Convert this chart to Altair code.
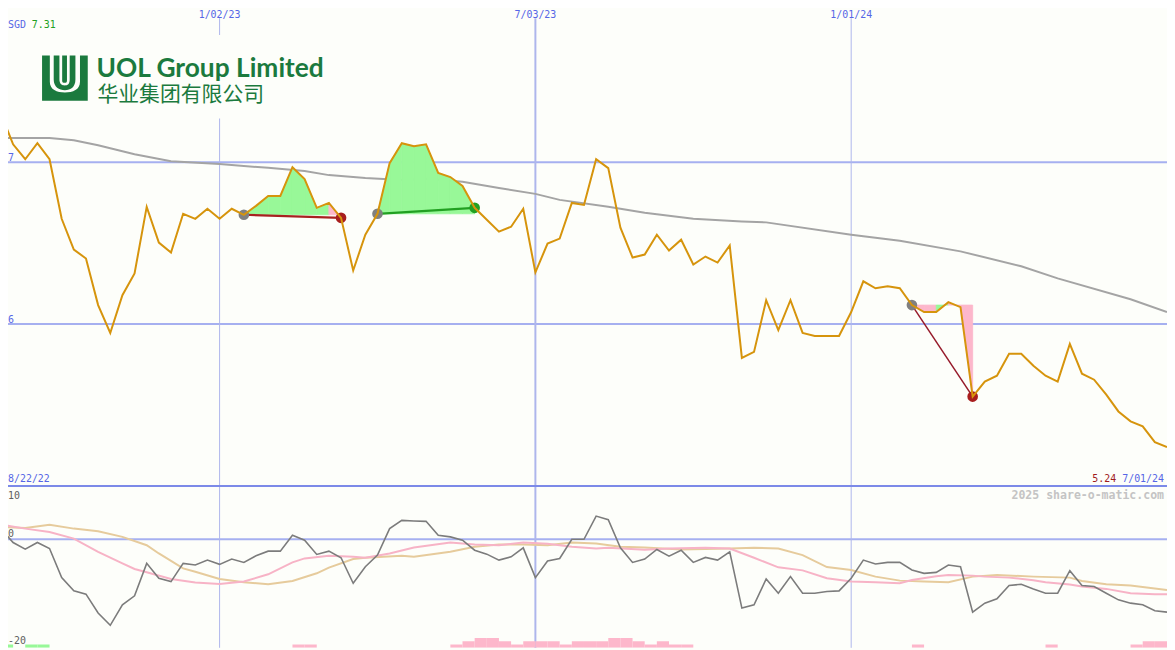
import altair as alt
import pandas as pd

# ---------------- data ----------------
start = pd.Timestamp("2022-08-29")
dates = pd.date_range(start, periods=97, freq="7D")

price = [7.30, 7.110, 7.018, 7.117, 7.018, 6.650, 6.460, 6.405, 6.117, 5.945,
         6.178, 6.313, 6.724, 6.503, 6.442, 6.681, 6.650, 6.712, 6.650, 6.712,
         6.675, 6.730, 6.791, 6.791, 6.969, 6.896, 6.718, 6.748, 6.656, 6.331,
         6.552, 6.681, 6.994, 7.117, 7.098, 7.110, 6.933, 6.908, 6.853, 6.718,
         6.644, 6.571, 6.601, 6.712, 6.319, 6.497, 6.528, 6.748, 6.736, 7.018,
         6.963, 6.595, 6.411, 6.429, 6.552, 6.454, 6.521, 6.368, 6.417, 6.380,
         6.485, 5.791, 5.828, 6.147, 5.963, 6.147, 5.945, 5.926, 5.926, 5.926,
         6.074, 6.264, 6.221, 6.233, 6.221, 6.117, 6.074, 6.074, 6.135, 6.104,
         5.552, 5.644, 5.681, 5.816, 5.816, 5.742, 5.681, 5.644, 5.877, 5.693,
         5.656, 5.564, 5.460, 5.399, 5.368, 5.270, 5.240]

ma_weeks = [0, 4, 6, 8, 10, 11, 14, 18, 22, 25, 27, 30, 33, 35, 38, 41, 44, 46, 50, 53,
            57, 61, 63, 70, 74, 79, 84, 87, 93, 96]
ma_vals = [7.149, 7.149, 7.135, 7.104, 7.067, 7.049, 7.006, 6.988, 6.965, 6.945,
           6.920, 6.902, 6.890, 6.898, 6.879, 6.840, 6.804, 6.767, 6.724, 6.687,
           6.650, 6.634, 6.628, 6.552, 6.515, 6.449, 6.357, 6.282, 6.153, 6.074]

osc = [2.02, -0.62, -1.88, -0.62, -1.75, -7.29, -9.81, -10.43, -14.02, -16.35,
       -12.45, -10.75, -4.58, -7.42, -8.04, -4.58, -4.90, -3.96, -4.77, -3.77,
       -4.40, -3.14, -2.26, -2.26, 0.76, -0.18, -2.89, -2.26, -3.52, -8.36,
       -5.21, -3.02, 2.02, 3.59, 3.47, 3.40, 0.76, 0.45, -0.18, -2.08,
       -2.83, -3.96, -3.33, -1.63, -7.29, -4.14, -3.65, 0.0, 0.0, 4.4,
       3.71, -1.63, -4.40, -3.77, -1.94, -3.20, -2.08, -4.40, -3.45, -3.96,
       -2.39, -13.08, -12.45, -7.55, -10.25, -7.10, -10.25, -10.25, -9.94, -9.81,
       -7.42, -3.96, -4.71, -4.40, -4.40, -5.85, -6.48, -6.29, -4.90, -5.21,
       -13.84, -12.14, -11.32, -8.80, -8.55, -9.43, -10.25, -10.25, -5.97, -8.80,
       -8.99, -10.25, -11.51, -12.14, -12.45, -13.58, -13.84]

pink_weeks = [0, 2, 4, 6, 8, 10, 11, 12, 14, 16, 18, 20, 22, 24, 25, 27, 29, 30, 32, 34,
              37, 39, 41, 43, 45, 47, 49, 50, 53, 55, 58, 60, 62, 64, 66, 68, 70, 72, 74, 75,
              77, 78, 80, 81, 83, 85, 86, 88, 89, 91, 93, 95, 96]
pink_vals = [2.77, 2.02, 1.39, 0.13, -2.38, -4.58, -5.65, -6.28, -7.54, -8.23,
             -8.48, -8.04, -6.66, -4.40, -3.64, -3.14, -3.33, -3.52, -2.70, -1.57,
             -0.62, -1.00, -1.13, -0.62, -0.87, -1.44, -1.75, -1.63, -2.01, -1.75,
             -1.63, -1.75, -3.52, -5.34, -5.91, -7.42, -8.04, -8.17, -8.36, -7.73,
             -7.04, -6.79, -6.91, -7.10, -7.29, -7.79, -8.17, -8.61, -8.99, -9.43,
             -10.25, -10.43, -10.43]

tan_weeks = [0, 2, 4, 6, 8, 10, 12, 13, 15, 16, 18, 20, 22, 24, 26, 27, 29, 30, 33, 34,
             37, 39, 41, 43, 45, 47, 49, 51, 53, 56, 60, 62, 64, 66, 68, 70, 72, 74, 76, 78,
             80, 82, 85, 88, 89, 91, 93, 96]
tan_vals = [2.33, 2.15, 2.77, 2.02, 1.52, 0.45, -1.13, -2.70, -5.53, -6.16,
            -7.54, -8.17, -8.55, -7.92, -6.47, -5.40, -3.77, -3.52, -3.14, -3.33,
            -2.38, -1.44, -1.00, -1.00, -1.13, -0.62, -0.81, -1.44, -1.57, -1.94,
            -1.75, -1.63, -1.75, -3.01, -5.28, -5.84, -7.10, -7.86, -8.04, -8.17,
            -7.10, -6.79, -7.10, -7.29, -7.92, -8.55, -8.80, -9.62]

pink_bar_weeks = [24, 25, 37, 38, 39, 40, 41, 42, 43, 44, 45, 46, 47, 48, 49, 50, 51, 52, 53,
                  54, 55, 56, 75, 86, 93, 94, 95]
pink_bar_levels = [1, 1, 1, 2, 3, 3, 2, 1, 2, 2, 2, 1, 2, 2, 2, 3, 3, 2, 1,
                   2, 1, 1, 1, 1, 1, 2, 2]
green_bar_weeks = [0, 2, 3]
green_bar_levels = [1, 1, 1]

# trades: entry week, exit week, outcome
trade_entry = [20, 31, 75]
trade_exit = [28, 39, 80]
trade_result = ["loss", "gain", "loss"]

vline_dates = ["2023-01-02", "2023-07-03", "2024-01-01"]
vline_labels = ["1/02/23", "7/03/23", "1/01/24"]
vline_widths = [1, 2, 1]

# ---------------- styling ----------------
BG = "#FDFEFA"
GRID = "#A6B0F0"
VGRID = "#AEB6EC"
SEP = "#7C8AE8"
BLUE = "#5666E6"
GREEN_TXT = "#22A022"
DARKRED = "#A01C1C"
PRICE_C = "#D6940C"
MA_C = "#A4A4A4"
OSC_C = "#7C7C7C"
OSC_PINK = "#F7B3C6"
OSC_TAN = "#E6CB9C"
FILL_G = "#98F898"
FILL_P = "#FDB7CB"
LOGO = "#1B7A3E"
MONO = "DejaVu Sans Mono"

W, H = 1167, 642
xs = alt.Scale(domain=[0.5805, 96], nice=False, zero=False)
yp = alt.Scale(domain=[5.0, 7.9387], range=[479, 0], nice=False, zero=False)
yo = alt.Scale(domain=[-20.62, 10.13], range=[642, 479], nice=False, zero=False)
yb = alt.Scale(domain=[0, 10], range=[642, 609], nice=False, zero=False)


def wk(d):
    return (pd.Timestamp(d) - start).days / 7.0


def X(field="w"):
    return alt.X(f"{field}:Q", scale=xs, axis=None)


def YP(field="p"):
    return alt.Y(f"{field}:Q", scale=yp, axis=None, stack=None)


def YO(field="v"):
    return alt.Y(f"{field}:Q", scale=yo, axis=None, stack=None)


weeks = [wk(d) for d in dates]
price_df = pd.DataFrame({"w": weeks, "p": price})
ma_df = pd.DataFrame({"w": ma_weeks, "p": ma_vals})
osc_df = pd.DataFrame({"w": weeks, "v": osc})
pink_df = pd.DataFrame({"w": pink_weeks, "v": pink_vals})
tan_df = pd.DataFrame({"w": tan_weeks, "v": tan_vals})

bars = pd.DataFrame({
    "w": pink_bar_weeks + green_bar_weeks,
    "lvl": pink_bar_levels + green_bar_levels,
    "c": [FILL_P] * len(pink_bar_weeks) + [FILL_G] * len(green_bar_weeks),
})
bars["w2"] = bars["w"] + 1
bars["base"] = 0

# fills between price and entry level, per segment
fill_rows = []
line_rows = []
dot_rows = []
for t, (a, b, r) in enumerate(zip(trade_entry, trade_exit, trade_result)):
    lvl = price[a]
    for i in range(a, b):
        c = FILL_G if price[i + 1] >= lvl else FILL_P
        seg = f"s{t}_{i}"
        fill_rows.append({"seg": seg, "w": weeks[i], "p": price[i], "lvl": lvl, "c": c})
        fill_rows.append({"seg": seg, "w": weeks[i + 1], "p": price[i + 1], "lvl": lvl, "c": c})
    lc = GREEN_TXT if r == "gain" else ("#A82020" if t == 0 else "#961A2A")
    sw = 1.5 if t == 2 else 2.2
    line_rows.append({"t": t, "w": weeks[a], "p": price[a], "col": lc, "sw": sw})
    line_rows.append({"t": t, "w": weeks[b], "p": price[b], "col": lc, "sw": sw})
    dot_rows.append({"w": weeks[a], "p": price[a], "col": "#808080"})
    dot_rows.append({"w": weeks[b], "p": price[b], "col": GREEN_TXT if r == "gain" else "#A81E1E"})
fill_df = pd.DataFrame(fill_rows)
tline_df = pd.DataFrame(line_rows)
dot_df = pd.DataFrame(dot_rows)

vl_df = pd.DataFrame({"w": [wk(d) for d in vline_dates], "label": vline_labels, "sw": vline_widths})
one = pd.DataFrame({"a": [0]})

layers = []

# horizontal grid lines (price panel) and zero line (oscillator panel)
layers.append(alt.Chart(pd.DataFrame({"p": [7, 6]})).mark_rule(color=GRID, strokeWidth=2).encode(
    y=YP(), x=alt.value(0), x2=alt.value(W)))
layers.append(alt.Chart(pd.DataFrame({"v": [0]})).mark_rule(color=GRID, strokeWidth=2).encode(
    y=YO(), x=alt.value(0), x2=alt.value(W)))
# vertical date lines
layers.append(alt.Chart(vl_df).mark_rule(color=VGRID).encode(
    x=X(), y=alt.value(8), y2=alt.value(H),
    strokeWidth=alt.StrokeWidth("sw:Q", scale=None)))
# separator between panels
layers.append(alt.Chart(pd.DataFrame({"p": [5.0]})).mark_rule(color=SEP, strokeWidth=2).encode(
    y=YP(), x=alt.value(0), x2=alt.value(W)))

# logo background box
layers.append(alt.Chart(one).mark_rect(color=BG).encode(
    x=alt.value(12), x2=alt.value(337), y=alt.value(25), y2=alt.value(109)))

# moving average
layers.append(alt.Chart(ma_df).mark_line(color=MA_C, strokeWidth=2, clip=True).encode(
    x=X(), y=YP()))

# trade fills (between price and entry level, one area per weekly segment)
for seg, g in fill_df.groupby("seg", sort=False):
    col = g["c"].iloc[0]
    layers.append(alt.Chart(g).mark_area(clip=True, opacity=1, color=col, stroke=col,
                                         strokeWidth=0.8).encode(
        x=X(), y=YP(), y2="lvl:Q"))

# oscillator panel
layers.append(alt.Chart(bars).mark_rect(clip=True).encode(
    x=X(), x2="w2:Q", y=alt.Y("base:Q", scale=yb, axis=None, stack=None), y2="lvl:Q",
    color=alt.Color("c:N", scale=None, legend=None)))
layers.append(alt.Chart(tan_df).mark_line(color=OSC_TAN, strokeWidth=2, clip=True).encode(
    x=X(), y=YO()))
layers.append(alt.Chart(pink_df).mark_line(color=OSC_PINK, strokeWidth=2, clip=True).encode(
    x=X(), y=YO()))
layers.append(alt.Chart(osc_df).mark_line(color=OSC_C, strokeWidth=1.6, clip=True).encode(
    x=X(), y=YO()))

# trade lines
layers.append(alt.Chart(tline_df).mark_line(clip=True).encode(
    x=X(), y=YP(), detail="t:N",
    color=alt.Color("col:N", scale=None, legend=None),
    strokeWidth=alt.StrokeWidth("sw:Q", scale=None)))

# dots
layers.append(alt.Chart(dot_df).mark_circle(size=115, opacity=1, clip=True).encode(
    x=X(), y=YP(),
    color=alt.Color("col:N", scale=None, legend=None)))

# price line
layers.append(alt.Chart(price_df).mark_line(color=PRICE_C, strokeWidth=2, clip=True).encode(
    x=X(), y=YP()))

# ---------- texts ----------
def txt(text, x, y, color, size=10, align="left", baseline="alphabetic", weight="normal", font=MONO):
    return alt.Chart(one).mark_text(text=text, color=color, fontSize=size, font=font, align=align,
                                    baseline=baseline, fontWeight=weight).encode(
        x=alt.value(x), y=alt.value(y))

layers.append(alt.Chart(vl_df).mark_text(color=BLUE, fontSize=10, font=MONO, baseline="top",
                                         align="center").encode(
    x=X(), y=alt.value(0), text="label:N"))
layers.append(txt("SGD", 0, 17.5, BLUE))
layers.append(txt("7.31", 24, 17.5, GREEN_TXT))
layers.append(alt.Chart(pd.DataFrame({"p": [7, 6], "t": ["7", "6"]})).mark_text(
    color=BLUE, fontSize=10, font=MONO, align="left", baseline="alphabetic", dy=-1.5).encode(
    x=alt.value(0), y=YP(), text="t:N"))
layers.append(txt("8/22/22", 0, 475, BLUE))
layers.append(txt("7/01/24", W - 3, 475, BLUE, align="right"))
layers.append(txt("5.24", W - 3 - 8 * 6.02, 475, DARKRED, align="right"))
layers.append(txt("2025 share-o-matic.com", W - 3, 492.5, "#C4C4C4", size=11.6, align="right",
                  weight="bold"))
layers.append(txt("10", 0, 492, "#606060"))
layers.append(txt("0", 0, 530, "#606060"))
layers.append(txt("-20", 0, 638, "#606060"))

# logo
logo_path = ("M -1 -1 L -0.66 -1 L -0.66 0.15 C -0.66 0.5 -0.35 0.62 0 0.62 "
             "C 0.35 0.62 0.66 0.5 0.66 0.15 L 0.66 -1 L 1 -1 L 1 0.98 L -1 0.98 Z "
             "M -0.49 -1 L -0.24 -1 L -0.24 0.05 C -0.24 0.25 -0.12 0.31 0 0.31 "
             "C 0.12 0.31 0.21 0.25 0.21 0.05 L 0.21 -1 L 0.46 -1 L 0.46 0.05 "
             "C 0.46 0.38 0.25 0.52 0 0.52 C -0.25 0.52 -0.49 0.38 -0.49 0.05 Z "
             "M -0.12 -1 L 0.09 -1 L 0.09 0.1 C 0.09 0.17 0.05 0.19 -0.015 0.19 "
             "C -0.08 0.19 -0.12 0.17 -0.12 0.1 Z")
layers.append(alt.Chart(one).mark_point(shape=logo_path, filled=True, size=2116, color=LOGO,
                                        opacity=1, strokeWidth=0).encode(
    x=alt.value(57.3), y=alt.value(68.7)))
layers.append(txt("UOL Group Limited", 89, 67, LOGO, size=26.5, weight="bold", font="Lato"))
layers.append(txt("华业集团有限公司", 90, 91, LOGO, size=21, font="Noto Sans CJK SC"))

chart = alt.layer(*layers).resolve_scale(y="independent").properties(
    width=W, height=H, padding=0, background=BG,
    autosize=alt.AutoSizeParams(type="none"),
).configure_view(stroke=None)

chart.save("out.html", embed_options={"renderer": "svg", "actions": False})
